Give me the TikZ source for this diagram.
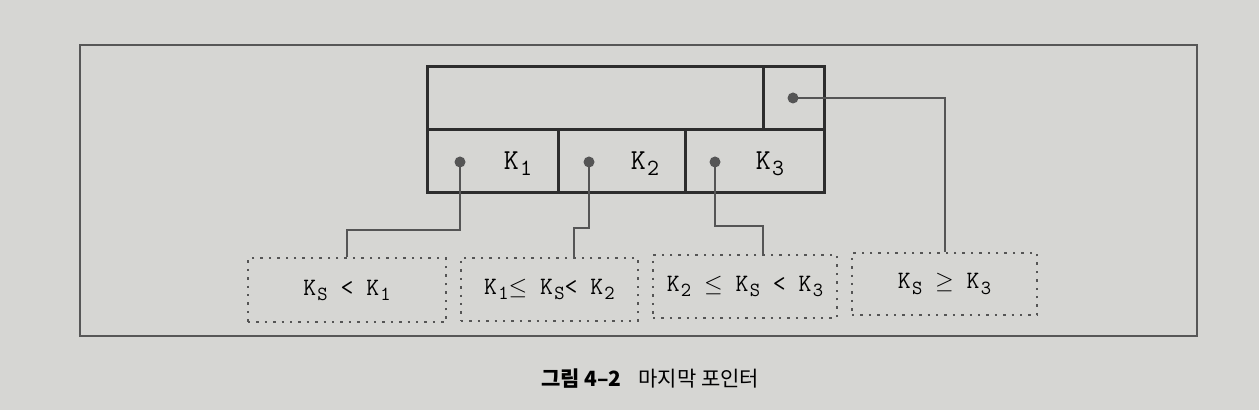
\documentclass[tikz,border=0pt]{standalone}
\usepackage{fontspec}
\newfontfamily\krfont{Noto Sans CJK KR}
\usetikzlibrary{positioning}

\definecolor{paper}{RGB}{214,214,211}
\definecolor{ink}{RGB}{45,45,45}
\definecolor{wire}{RGB}{85,85,85}

\newcommand\key[1]{K\kern0.05em\raisebox{-0.5ex}{\scalebox{0.8}{#1}}}

\tikzset{
  cell/.style={draw=ink,line width=1.5pt,rectangle,inner sep=0pt,outer sep=0pt,minimum height=31.5pt},
  dot/.style={circle,fill=wire,inner sep=0pt,minimum size=5.5pt},
  keyrange/.style={draw=wire,line width=1pt,dash pattern=on 1.2pt off 3pt,inner sep=0pt,font=\ttfamily\fontsize{12.5}{14}\selectfont},
  keytext/.style={font=\ttfamily\fontsize{14.5}{16}\selectfont},
  wireline/.style={draw=wire,line width=1pt}
}

\begin{document}
\begin{tikzpicture}[x=0.5pt,y=-0.5pt]
    \fill[paper] (0,0) rectangle (1259,410);
    \draw[ink!80,line width=0.6pt] (80,45) rectangle (1197,336);

    % the node record
    \node[cell,minimum width=168pt] (top) at (595,98.5) {};
    \node[cell,minimum width=30.5pt] (last) at (793.5,98.5) {};
    \node[cell,minimum width=65.5pt] (c1) at (492.5,161.5) {};
    \node[cell,minimum width=63.5pt] (c2) at (621.5,161.5) {};
    \node[cell,minimum width=69.5pt] (c3) at (754.5,161.5) {};
    \node[keytext] (k1) at (518,164) {\key{1}};
    \node[keytext] (k2) at (645,164) {\key{2}};
    \node[keytext] (k3) at (770,164) {\key{3}};

    % pointers
    \node[dot] (p1) at (460,162) {};
    \node[dot] (p2) at (589,162) {};
    \node[dot] (p3) at (715,162) {};
    \node[dot] (p4) at (793,98) {};

    % key ranges
    \node[keyrange,minimum width=99pt,minimum height=32pt] (r1) at (347,290.5) {\key{S} < \key{1}};
    \node[keyrange,minimum width=88.5pt,minimum height=31.5pt] (r2) at (549.5,289.5) {\key{1}$\leq$ \key{S}< \key{2}};
    \node[keyrange,minimum width=92pt,minimum height=31.5pt] (r3) at (745,286.5) {\key{2} $\leq$ \key{S} < \key{3}};
    \node[keyrange,minimum width=92.5pt,minimum height=31pt] (r4) at (944.5,284) {\key{S} $\geq$ \key{3}};

    \draw[wireline] (p1.center) |- (347,230) -- (r1.north);
    \draw[wireline] (p2.center) |- (574,228) -- (r2.north -| 574,0);
    \draw[wireline] (p3.center) |- (763,226) -- (r3.north -| 763,0);
    \draw[wireline] (p4.center) -| (r4.north);

    \node[font=\krfont\fontsize{10.5}{12}\selectfont] (cap) at (650,379) {{\bfseries 그림 4–2}\hspace{0.8em}마지막 포인터};
\end{tikzpicture}
\end{document}
